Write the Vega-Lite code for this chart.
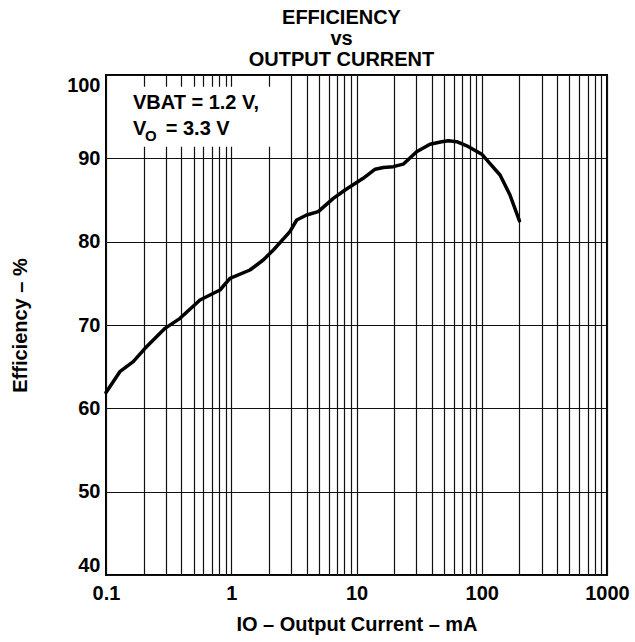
{
  "$schema": "https://vega.github.io/schema/vega-lite/v6.json",
  "width": 501,
  "height": 500,
  "autosize": "none",
  "padding": {"left": 106, "top": 75, "right": 28, "bottom": 67},
  "background": "white",
  "config": {
    "font": "Liberation Sans",
    "view": {"stroke": "black", "strokeWidth": 2},
    "axis": {
      "grid": true,
      "gridColor": "#111111",
      "gridWidth": 1.2,
      "gridOpacity": 1,
      "ticks": false,
      "domain": false,
      "labelFont": "Liberation Sans",
      "labelFontSize": 20,
      "labelFontWeight": "bold",
      "labelColor": "black",
      "titleFont": "Liberation Sans",
      "titleFontSize": 20,
      "titleFontWeight": "bold",
      "titleColor": "black",
      "labelOverlap": false,
      "labelBound": false
    }
  },
  "title": {
    "text": ["EFFICIENCY", "vs", "OUTPUT CURRENT"],
    "font": "Liberation Sans",
    "fontSize": 20,
    "fontWeight": "bold",
    "lineHeight": 21,
    "color": "black",
    "anchor": "middle",
    "dx": -15,
    "offset": 5
  },
  "layer": [
    {
      "data": {"values": [{"current": 0.15, "current2": 2.24, "efficiency": 91.4, "efficiency2": 98.6}]},
      "mark": {"type": "rect", "fill": "white", "stroke": null},
      "encoding": {
        "x": {
          "field": "current",
          "type": "quantitative",
          "title": "IO – Output Current – mA",
          "scale": {"type": "log", "domain": [0.1, 1000]},
          "axis": {
            "values": [0.1, 0.2, 0.3, 0.4, 0.5, 0.6, 0.7, 0.8, 0.9, 1, 2, 3, 4, 5, 6, 7, 8, 9, 10, 20, 30, 40, 50, 60, 70, 80, 90, 100, 200, 300, 400, 500, 600, 700, 800, 900, 1000],
            "format": "~g",
            "labelExpr": "indexof([0.1, 1, 10, 100, 1000], datum.value) >= 0 ? datum.label : ''",
            "labelFlush": false,
            "labelPadding": 8,
            "titlePadding": 11
          }
        },
        "x2": {"field": "current2"},
        "y": {
          "field": "efficiency",
          "type": "quantitative",
          "title": "Efficiency – %",
          "scale": {"domain": [40, 100]},
          "axis": {
            "values": [40, 50, 60, 70, 80, 90, 100],
            "labelFlush": true,
            "labelPadding": 6,
            "titlePadding": 36
          }
        },
        "y2": {"field": "efficiency2"}
      }
    },
    {
      "data": {"values": [
        {"current": 0.1, "efficiency": 61.9},
        {"current": 0.129, "efficiency": 64.4},
        {"current": 0.165, "efficiency": 65.6},
        {"current": 0.205, "efficiency": 67.2},
        {"current": 0.296, "efficiency": 69.6},
        {"current": 0.39, "efficiency": 70.8},
        {"current": 0.563, "efficiency": 73.0},
        {"current": 0.813, "efficiency": 74.2},
        {"current": 0.977, "efficiency": 75.6},
        {"current": 1.41, "efficiency": 76.6},
        {"current": 1.8, "efficiency": 77.8},
        {"current": 2.17, "efficiency": 79.0},
        {"current": 2.94, "efficiency": 81.2},
        {"current": 3.33, "efficiency": 82.6},
        {"current": 4.0, "efficiency": 83.2},
        {"current": 4.95, "efficiency": 83.6},
        {"current": 6.53, "efficiency": 85.2},
        {"current": 8.1, "efficiency": 86.2},
        {"current": 11.3, "efficiency": 87.6},
        {"current": 14.1, "efficiency": 88.7},
        {"current": 16.4, "efficiency": 88.9},
        {"current": 19.7, "efficiency": 89.0},
        {"current": 23.6, "efficiency": 89.3},
        {"current": 30.2, "efficiency": 90.8},
        {"current": 38.6, "efficiency": 91.7},
        {"current": 47.9, "efficiency": 92.0},
        {"current": 54.1, "efficiency": 92.1},
        {"current": 63.1, "efficiency": 92.0},
        {"current": 75.9, "efficiency": 91.5},
        {"current": 100, "efficiency": 90.5},
        {"current": 116, "efficiency": 89.4},
        {"current": 140, "efficiency": 88.0},
        {"current": 168, "efficiency": 85.6},
        {"current": 200, "efficiency": 82.5}
      ]},
      "mark": {"type": "line", "stroke": "black", "strokeWidth": 3.5, "strokeCap": "round", "strokeJoin": "round"},
      "encoding": {
        "x": {"field": "current", "type": "quantitative"},
        "y": {"field": "efficiency", "type": "quantitative"}
      }
    },
    {
      "data": {"values": [
        {"current": 0.164, "efficiency": 95.9, "label": "VBAT = 1.2 V,"},
        {"current": 0.164, "efficiency": 92.8, "label": "V"},
        {"current": 0.3, "efficiency": 92.8, "label": "= 3.3 V"}
      ]},
      "mark": {"type": "text", "align": "left", "baseline": "alphabetic", "fontSize": 20, "fontWeight": "bold", "font": "Liberation Sans", "color": "black"},
      "encoding": {
        "x": {"field": "current", "type": "quantitative"},
        "y": {"field": "efficiency", "type": "quantitative"},
        "text": {"field": "label"}
      }
    },
    {
      "data": {"values": [{"current": 0.205, "efficiency": 92.1, "label": "O"}]},
      "mark": {"type": "text", "align": "left", "baseline": "alphabetic", "fontSize": 15, "fontWeight": "bold", "font": "Liberation Sans", "color": "black"},
      "encoding": {
        "x": {"field": "current", "type": "quantitative"},
        "y": {"field": "efficiency", "type": "quantitative"},
        "text": {"field": "label"}
      }
    }
  ]
}
